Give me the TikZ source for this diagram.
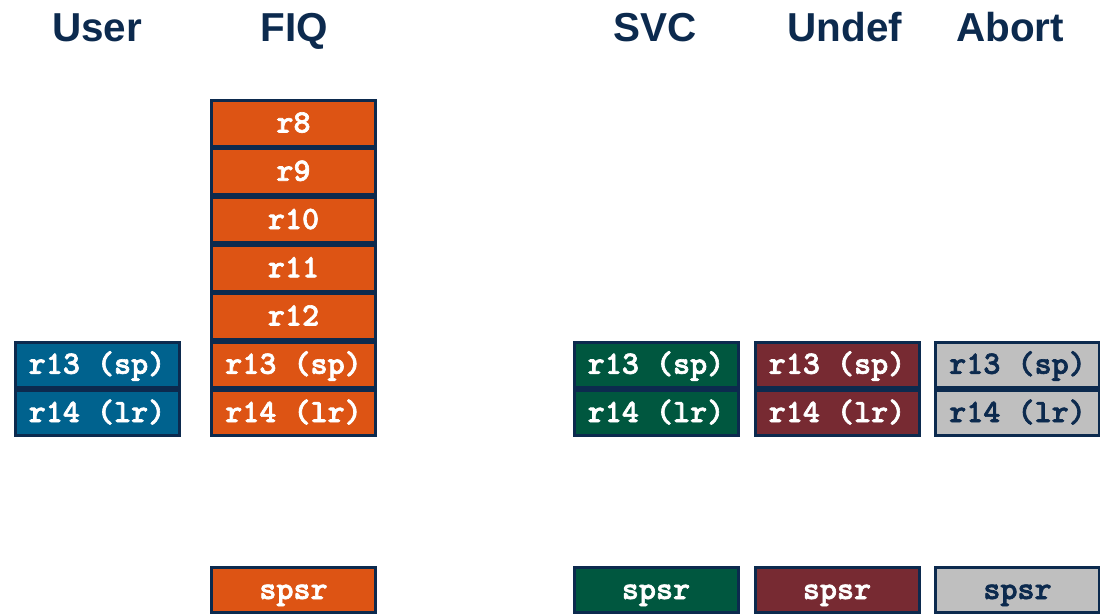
\documentclass[tikz,border=0pt]{standalone}
\usepackage{fontspec}
\setmainfont{Liberation Sans}
\setsansfont{Liberation Sans}
\newfontfamily\regfont{lmmonolt10-bold.otf}[FakeBold=2]
\usetikzlibrary{positioning}
\definecolor{navy}{HTML}{0C2A4E}
\definecolor{userblue}{HTML}{00628E}
\definecolor{fiqorange}{HTML}{DD5414}
\definecolor{svcgreen}{HTML}{00573F}
\definecolor{undefred}{HTML}{772A32}
\definecolor{abortgrey}{HTML}{BFBFBF}
\tikzstyle{reg} = [rectangle, draw=navy, line width=0.06cm, inner sep=0pt,
    minimum width=3.28cm, minimum height=0.91cm, text=white,
    text height=0.42cm, text depth=0.06cm,
    font=\regfont\fontsize{18.5}{20}\selectfont]
\tikzstyle{mode} = [anchor=base, text=navy,
    font=\sffamily\bfseries\fontsize{23}{26}\selectfont]

\begin{document}
\begin{tikzpicture}[node distance=0.965cm]
		\useasboundingbox (0,0) rectangle (22,12.26);

		% mode names
		\node [mode] (tuser) at (1.94,11.42) {User};
		\node [mode] (tfiq) at (5.88,11.42) {FIQ};
		\node [mode] (tsvc) at (13.1,11.42) {SVC};
		\node [mode] (tund) at (16.9,11.42) {Undef};
		\node [mode] (tabt) at (20.2,11.42) {Abort};

		% FIQ bank
		\node [reg, fill=fiqorange] (fiq8) at (5.87,9.79) {r8};
		\node [reg, fill=fiqorange, below of=fiq8] (fiq9) {r9};
		\node [reg, fill=fiqorange, below of=fiq9] (fiq10) {r10};
		\node [reg, fill=fiqorange, below of=fiq10] (fiq11) {r11};
		\node [reg, fill=fiqorange, below of=fiq11] (fiq12) {r12};
		\node [reg, fill=fiqorange, below of=fiq12] (fiq13) {r13 (sp)};
		\node [reg, fill=fiqorange, below of=fiq13] (fiq14) {r14 (lr)};
		\node [reg, fill=fiqorange, node distance=3.54cm, below of=fiq14] (fiqsp) {spsr};

		% User
		\node [reg, fill=userblue, node distance=3.93cm, left of=fiq13] (usr13) {r13 (sp)};
		\node [reg, fill=userblue, below of=usr13] (usr14) {r14 (lr)};

		% SVC
		\node [reg, fill=svcgreen, node distance=7.25cm, right of=fiq13] (svc13) {r13 (sp)};
		\node [reg, fill=svcgreen, below of=svc13] (svc14) {r14 (lr)};
		\node [reg, fill=svcgreen, node distance=3.54cm, below of=svc14] (svcsp) {spsr};

		% Undef
		\node [reg, fill=undefred, node distance=3.62cm, right of=svc13] (und13) {r13 (sp)};
		\node [reg, fill=undefred, below of=und13] (und14) {r14 (lr)};
		\node [reg, fill=undefred, node distance=3.54cm, below of=und14] (undsp) {spsr};

		% Abort
		\node [reg, fill=abortgrey, text=navy, node distance=3.61cm, right of=und13] (abt13) {r13 (sp)};
		\node [reg, fill=abortgrey, text=navy, below of=abt13] (abt14) {r14 (lr)};
		\node [reg, fill=abortgrey, text=navy, node distance=3.54cm, below of=abt14] (abtsp) {spsr};
	\end{tikzpicture}
\end{document}
